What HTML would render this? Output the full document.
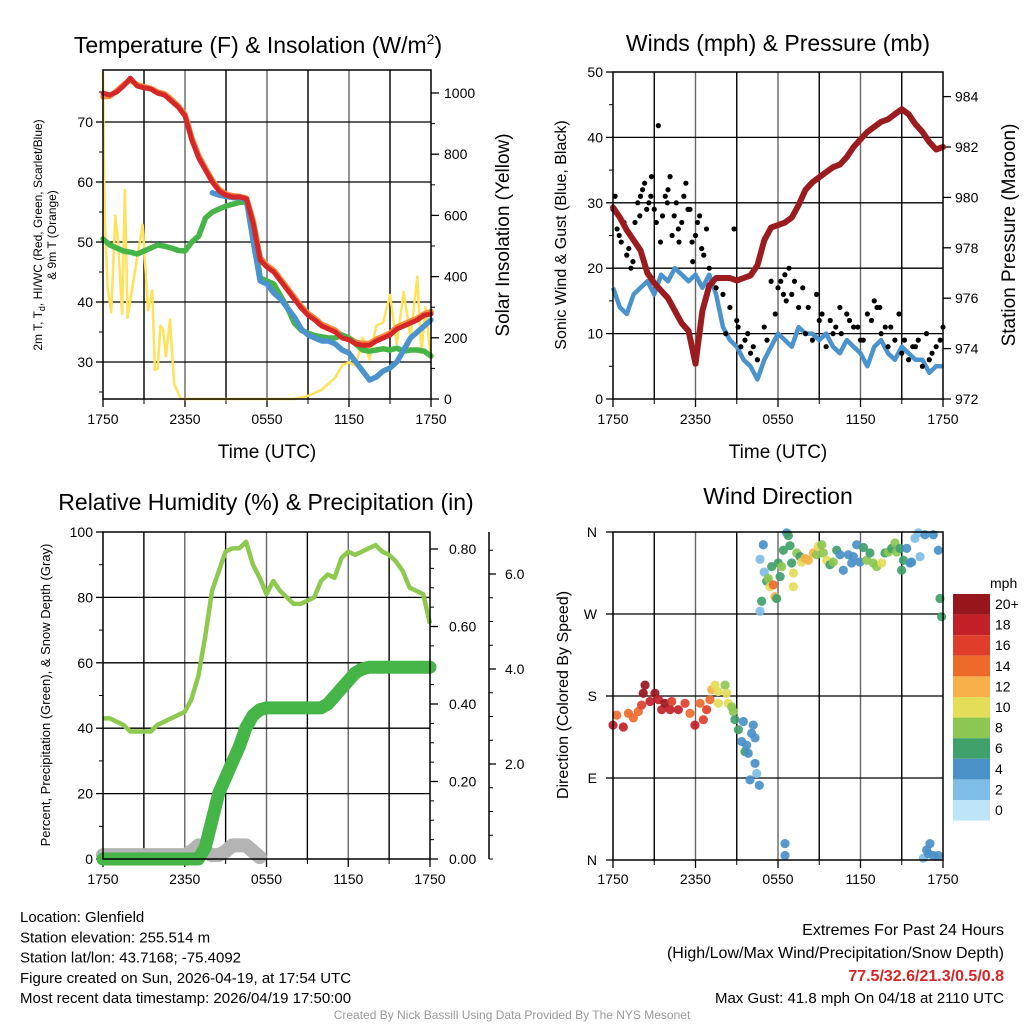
<!DOCTYPE html>
<html><head><meta charset="utf-8">
<style>
html,body{margin:0;padding:0;background:#fff;}
svg{display:block;font-family:"Liberation Sans",sans-serif;}
</style></head>
<body>
<svg id="root" width="1024" height="1024" viewBox="0 0 1024 1024" xmlns="http://www.w3.org/2000/svg"></svg>
<script>
// ---- time axis categories ----
const xTickLabels = ["1750","2350","0550","1150","1750"];
// ---- temperature panel data (half-hour steps, 0..24h) ----
const tempRed = [74.8,74.5,75,76,77.3,76,75.7,75.5,74.8,74.5,73.5,72.5,71,67,64,62,60,58.5,57.8,57.5,57.5,57.2,53,47,45.8,45,43.5,42,40.5,39,37.8,37,36,35.5,35,34,33.7,33,32.8,32.8,33.5,34,34.5,35.5,36,36.5,37,37.8,38];
const tempOrange = [74.2,74.3,75.2,76.2,77,76.2,75.9,75.6,75,74.7,73.8,72.7,71.3,67.4,64.4,62.3,60.3,58.8,58,57.7,57.6,57.3,53.5,47.4,46.1,45.3,43.8,42.3,40.8,39.3,38.1,37.3,36.3,35.8,35.3,34.3,34,33.3,33.1,33.1,33.8,34.3,34.8,35.8,36.3,36.8,37.3,38,38.4];
const dewGreen = [50.5,49.5,49,48.5,48.3,48,48.5,49,49.5,49.3,49,48.6,48.5,50,51,54,55,55.5,56,56.3,56.6,56.7,52,44,43.5,43,41,39,36.5,35.3,34.8,34.4,34.2,34,34,34.5,34,33,32,31.8,32,32.2,32,32.3,31.8,32,32,31.8,31];
const chillBlue = [null,null,null,null,null,null,null,null,null,null,null,null,null,null,null,null,58.2,57.8,57.6,57.4,57.4,57,50,43.5,43,41.5,40.5,39,37.5,35.5,34.5,34,33.5,33.5,33,32,31.5,30,28.5,27,27.5,28.5,29,30,32,34,35,36,37];
const solarHour = [0,0.05,0.15,0.35,0.6,0.9,1.1,1.4,1.6,1.8,2.2,2.9,3.3,3.6,3.8,4.0,4.2,4.4,4.6,4.9,5.2,5.7,14,15,16,17,17.5,18,18.5,19,19.5,20,20.5,21,21.5,22,22.5,23,23.3,23.6,24];
const solarVal = [1070,840,570,356,284,600,520,278,683,265,380,570,290,355,95,100,240,225,140,260,50,0,0,10,30,70,110,120,110,200,130,240,250,340,180,350,200,400,150,300,130];
const tempTicks = [30,40,50,60,70];
const solarTicks = [0,200,400,600,800,1000];
// ---- wind panel data ----
const windSpeed = [17,14,13,16,17,18,16,19,18,20,19,18,19,17,19,16,11,9,8,6,5,3,6,8,10,9,8,11,10,10,9,10,8,7,9,8,7,5,8,9,7,6,8,7,6,6,4,5,5];
const pressure = [979.6,979.2,978.7,978.3,977.9,977.0,976.6,976.3,976.0,975.5,975.0,974.7,973.4,975.5,976.5,976.8,976.8,976.8,976.7,976.8,976.9,977.3,978.3,978.8,978.9,979.0,979.2,979.7,980.3,980.6,980.8,981.0,981.2,981.3,981.6,982.0,982.3,982.6,982.8,983.0,983.1,983.3,983.5,983.3,982.9,982.6,982.2,981.9,982.0];
const gustHour = [0,0.3,0.6,1,1.3,1.6,2,2.3,2.6,3,3.3,3.6,4,4.3,4.6,5,5.3,5.6,6,6.3,6.6,7,7.5,8,8.5,9,9.3,9.6,10,10.5,11,11.5,12,12.5,13,13.5,14,14.5,15,15.5,16,16.5,17,17.5,18,18.5,19,19.5,20,20.5,21,21.5,22,22.5,23,23.5,24,0.8,1.8,2.8,3.8,4.8,5.8,6.8,8.2,12.2,12.8,15.2,16.2,17.2,19.2,20.2,22.2,0.15,0.45,1.15,1.45,1.95,2.15,2.45,2.75,3.15,3.45,3.95,4.15,4.45,4.75,5.15,5.45,5.75,6.15,6.45,8.8,9.1,9.8,10.2,11.2,11.8,12.4,12.6,13.2,13.8,14.2,14.8,15.8,16.6,17.8,18.2,18.8,19.4,19.8,20.8,21.2,21.8,22.8,23.2,23.8];
const gustVal = [29,26,24,22,20,27,31,33,30,29,41.8,28,32,25,30,27,33,29,25,28,22,20,17,16,14,12,8,9,7,6,11,18,17,19,16,14,10,9,12,8,10,14,13,11,9,13,15,10,8,9,7,6,8,5,6,8,11,27,30,34,31,24,21,26,10,18,20,13,11,12,14,11,9,31,25,23,21,28,32,29,31,27,24,30,34,28,26,31,29,24,27,23,26,11,10,8,9,13,16,15,18,17,14,16,12,10,11,9,12,14,11,13,9,8,10,7,9,7,10];
const windTicks = [0,10,20,30,40,50];
const pressTicks = [972,974,976,978,980,982,984];
// ---- humidity / precipitation data ----
const relHum = [43,43,42,41,39,39,39,39,41,42,43,44,45,49,56,68,82,88,94,95,95,97,90,86,81,85,82,80,78,78,79,80,85,87,86,92,94,93,94,95,96,94,93,91,88,83,82,81,72];
const precip = [0,0,0,0,0,0,0,0,0,0,0,0,0,0,0,0.03,0.1,0.17,0.21,0.25,0.29,0.34,0.37,0.385,0.39,0.39,0.39,0.39,0.39,0.39,0.39,0.39,0.39,0.4,0.42,0.44,0.46,0.48,0.49,0.495,0.495,0.495,0.495,0.495,0.495,0.495,0.495,0.495,0.495];
const snowDepth = [0.01,0.01,0.01,0.01,0.01,0.01,0.01,0.01,0.01,0.01,0.01,0.01,0.01,0.02,0.035,0.02,0.01,0.01,0.02,0.035,0.035,0.035,0.02,0.005,null,null,null,null,null,null,null,null,null,null,null,null,null,null,null,null,null,null,null,null,null,null,null,null,null];
const rhTicks = [0,20,40,60,80,100];
const precipTicks = [0,0.2,0.4,0.6,0.8];
const snowTicks = [2.0,4.0,6.0];
// ---- wind direction data ----
const dirHour = [0.0,0.27,0.75,1.12,1.48,1.84,2.08,2.2,2.33,2.69,3.05,3.3,3.54,3.78,4.15,4.27,4.75,5.24,5.6,5.96,6.33,6.57,6.81,7.05,7.18,7.42,7.66,7.66,8.15,8.27,8.39,8.63,8.75,8.87,9.12,9.48,9.36,9.6,9.72,9.84,10.08,10.2,10.33,10.33,10.45,9.96,10.64,10.69,10.81,10.69,10.93,11.0,11.18,11.3,11.42,11.54,11.66,11.78,11.9,12.02,12.15,12.27,12.39,12.63,12.75,12.87,12.99,13.12,13.12,13.36,13.6,13.72,13.96,14.21,14.57,14.81,14.93,15.18,15.3,15.54,15.78,16.02,16.27,16.51,16.75,17.12,17.36,17.48,17.72,17.96,18.21,18.45,18.69,18.93,19.18,19.54,19.78,20.02,20.27,20.51,20.63,20.87,20.99,21.12,21.36,21.6,21.72,21.96,22.21,22.33,22.69,23.3,23.66,23.78,23.9,12.51,12.51,23.05,22.81,22.57,23.3,23.66,22.93];
const dirDeg = [148,159,146,161,156,163,170,183,192,174,183,176,165,172,165,174,165,172,161,148,172,154,165,176,187,192,185,172,192,183,172,168,163,154,143,152,130,119,126,117,139,148,134,106,95,88,82,273,284,330,346,316,306,309,300,322,302,289,287,326,311,322,340,359,356,345,326,315,300,337,333,327,331,329,337,335,344,346,337,329,324,327,340,335,318,335,326,333,346,327,343,329,337,326,322,326,337,338,342,348,338,342,318,329,342,326,327,353,359,333,357,357,340,287,267,18,5,18,11,2,5,5,7];
const dirSpeed = [18,14,18,14,14,14,16,20,20,18,20,18,18,20,18,16,18,16,14,18,14,16,16,14,12,10,10,10,8,9,10,8,8,6,6,4,3,6,4,4,4,4,3,3,2,4,3,2,6,2,4,2,6,8,10,6,14,12,6,6,6,8,6,4,6,6,6,10,10,8,6,10,12,12,12,8,10,8,8,10,6,8,6,4,4,4,4,4,4,4,6,8,6,8,8,10,6,8,6,8,8,6,6,6,4,4,4,2,2,2,4,4,4,6,6,4,4,4,4,2,4,4,4];
const dirTickLabels = ["N","W","S","E","N"];
const speedLabels = ["20+","18","16","14","12","10","8","6","4","2","0"];
const speedColors = ["#bde5f7","#7dbde6","#4a90c9","#40a06a","#8cc751","#e3dd58","#f7b04a","#ee6a2b","#e03e2b","#c22026","#97161c"];

const svg = document.getElementById('root');
const NS = 'http://www.w3.org/2000/svg';
function mk(tag, attrs, parent){
  const e = document.createElementNS(NS, tag);
  for (const k in attrs) e.setAttribute(k, attrs[k]);
  (parent||svg).appendChild(e);
  return e;
}
function txt(str, x, y, size, anchor, parent, extra){
  const t = mk('text', Object.assign({x:x, y:y, 'font-size':size, 'text-anchor':anchor||'middle', fill:'#000'}, extra||{}), parent);
  t.textContent = str;
  return t;
}
function linePath(vals, fx, fy){
  let d = '', pen = false;
  vals.forEach((v,i)=>{
    if (v===null){ pen=false; return; }
    d += (pen?'L':'M') + fx(i).toFixed(1) + ' ' + fy(v).toFixed(1) + ' ';
    pen = true;
  });
  return d;
}
function frame(x0,x1,y0,y1,g){
  mk('rect',{x:x0,y:y0,width:x1-x0,height:y1-y0,fill:'none',stroke:'#000','stroke-width':1.5},g);
}
function vgrid(x0,x1,y0,y1,g){
  for (let k=1;k<8;k++){
    const x = x0 + k*(x1-x0)/8;
    mk('line',{x1:x,y1:y0,x2:x,y2:y1,stroke:k%2?'#000':'#666','stroke-width':1.4},g);
  }
}
function xTicks(x0,x1,y1,ty,g){
  xTickLabels.forEach((lab,i)=>{
    const x = x0 + i*(x1-x0)/4;
    mk('line',{x1:x,y1:y1,x2:x,y2:y1+8,stroke:'#000','stroke-width':1.3},g);
    const t = txt(lab, x, ty, 14, 'middle', g);
    
    
  });
  for (let k=1;k<8;k+=2){
    const x = x0 + k*(x1-x0)/8;
    mk('line',{x1:x,y1:y1,x2:x,y2:y1+5,stroke:'#000','stroke-width':1},g);
  }
}

// ================= PANEL 1: Temperature =================
(function(){
  const g = mk('g',{});
  
  
  const x0=103,x1=431,y0=70,y1=399;
  const X = h => x0 + h*(x1-x0)/24;
  const XI = i => X(i*0.5);
  const Y = v => 362 - (v-30)*6;
  const YS = v => 399 - v*0.306;
  vgrid(x0,x1,y0,y1,g);
  tempTicks.forEach(v=>{
    mk('line',{x1:x0,y1:Y(v),x2:x1,y2:Y(v),stroke:'#000','stroke-width':1.3},g);
    mk('line',{x1:x0-7,y1:Y(v),x2:x0,y2:Y(v),stroke:'#000','stroke-width':1.3},g);
    const t = txt(String(v), x0-10, Y(v)+5, 14, 'end', g);
    
    
  });
  [25,35,45,55,65,75].forEach(v=>mk('line',{x1:x0-4,y1:Y(v),x2:x0,y2:Y(v),stroke:'#000'},g));
  solarTicks.forEach(v=>{
    mk('line',{x1:x1,y1:YS(v),x2:x1+8,y2:YS(v),stroke:'#000','stroke-width':1.3},g);
    const t = txt(String(v), x1+13, YS(v)+5, 14, 'start', g);
    
    
  });
  for (let v=100; v<1100; v+=200) mk('line',{x1:x1,y1:YS(v),x2:x1+4,y2:YS(v),stroke:'#000'},g);
  xTicks(x0,x1,y1,424,g);
  const sp = mk('path',{d:solarHour.map((h,i)=>(i?'L':'M')+X(h).toFixed(1)+' '+YS(solarVal[i]).toFixed(1)).join(' '),fill:'none',stroke:'#fde25a','stroke-width':2.5,'stroke-linejoin':'round'},g);
  
  
  const og = mk('path',{d:linePath(tempOrange,XI,Y),fill:'none',stroke:'#f7893a','stroke-width':5.5,'stroke-linejoin':'round','stroke-linecap':'round'},g);
  
  
  const gr = mk('path',{d:linePath(dewGreen,XI,Y),fill:'none',stroke:'#46b548','stroke-width':5.5,'stroke-linejoin':'round','stroke-linecap':'round'},g);
  
  
  const bl = mk('path',{d:linePath(chillBlue,XI,Y),fill:'none',stroke:'#4b93cd','stroke-width':5.5,'stroke-linejoin':'round','stroke-linecap':'round'},g);
  
  
  const rd = mk('path',{d:linePath(tempRed,XI,Y),fill:'none',stroke:'#d62728','stroke-width':5,'stroke-linejoin':'round','stroke-linecap':'round'},g);
  
  
  frame(x0,x1,y0,y1,g);
  const ti = txt('Temperature (F) & Insolation (W/m', 258, 53, 23, 'middle', g);
  const sup = mk('tspan',{'font-size':14,dy:-9},ti); sup.textContent='2';
  const cl = mk('tspan',{dy:9},ti); cl.textContent=')';
  
  
  const xt = txt('Time (UTC)', 267, 458, 19, 'middle', g);
  
  
  const yl = txt('', 0, 0, 12, 'middle', g, {transform:'translate(42,235) rotate(-90)'});
  yl.innerHTML = '2m T, T<tspan font-size="9" dy="3">d</tspan><tspan dy="-3">, HI/WC (Red, Green, Scarlet/Blue)</tspan>';
  
  
  const yl2 = txt('& 9m T (Orange)', 0, 0, 12, 'middle', g, {transform:'translate(56,235) rotate(-90)'});
  
  
  const yr = txt('Solar Insolation (Yellow)', 0, 0, 19, 'middle', g, {transform:'translate(509,235) rotate(-90)'});
  
  
})();

// ================= PANEL 2: Winds =================
(function(){
  const g = mk('g',{});
  
  
  const x0=613,x1=943,y0=72,y1=399;
  const X = h => x0 + h*(x1-x0)/24;
  const XI = i => X(i*0.5);
  const Y = v => 399 - v*6.54;
  const YP = p => 399 - (p-972)*25.2;
  vgrid(x0,x1,y0,y1,g);
  windTicks.forEach(v=>{
    if (v>0 && v<50) mk('line',{x1:x0,y1:Y(v),x2:x1,y2:Y(v),stroke:'#000','stroke-width':1.3},g);
    mk('line',{x1:x0-7,y1:Y(v),x2:x0,y2:Y(v),stroke:'#000','stroke-width':1.3},g);
    const t = txt(String(v), x0-10, Y(v)+5, 14, 'end', g);
    
    
  });
  [5,15,25,35,45].forEach(v=>mk('line',{x1:x0-4,y1:Y(v),x2:x0,y2:Y(v),stroke:'#000'},g));
  pressTicks.forEach(v=>{
    mk('line',{x1:x1,y1:YP(v),x2:x1+8,y2:YP(v),stroke:'#000','stroke-width':1.3},g);
    const t = txt(String(v), x1+12, YP(v)+5, 14, 'start', g);
    
    
  });
  xTicks(x0,x1,y1,424,g);
  const ws = mk('path',{d:linePath(windSpeed,XI,Y),fill:'none',stroke:'#4b93cd','stroke-width':4.5,'stroke-linejoin':'round'},g);
  
  
  gustHour.forEach((h,i)=>{
    const c = mk('circle',{cx:X(h),cy:Y(gustVal[i]),r:2.6,fill:'#000'},g);
    
    
  });
  const pr = mk('path',{d:linePath(pressure,XI,YP),fill:'none',stroke:'#9b1c1f','stroke-width':6,'stroke-linejoin':'round','stroke-linecap':'round'},g);
  
  
  frame(x0,x1,y0,y1,g);
  const ti = txt('Winds (mph) & Pressure (mb)', 778, 51, 23, 'middle', g);
  
  
  const xt = txt('Time (UTC)', 778, 458, 19, 'middle', g);
  
  
  const yl = txt('Sonic Wind & Gust (Blue, Black)', 0, 0, 16, 'middle', g, {transform:'translate(566,235) rotate(-90)'});
  
  
  const yr = txt('Station Pressure (Maroon)', 0, 0, 19, 'middle', g, {transform:'translate(1015,235) rotate(-90)'});
  
  
})();

// ================= PANEL 3: Humidity =================
(function(){
  const g = mk('g',{});
  
  
  const x0=103,x1=430,y0=532,y1=859;
  const X = h => x0 + h*(x1-x0)/24;
  const XI = i => X(i*0.5);
  const Y = v => 859 - v*3.27;
  const YPr = v => 859 - v*387.5;
  const YSn = v => 859 - v*47.5;
  vgrid(x0,x1,y0,y1,g);
  rhTicks.forEach(v=>{
    if (v>0 && v<100) mk('line',{x1:x0,y1:Y(v),x2:x1,y2:Y(v),stroke:'#000','stroke-width':1.3},g);
    mk('line',{x1:x0-7,y1:Y(v),x2:x0,y2:Y(v),stroke:'#000','stroke-width':1.3},g);
    const t = txt(String(v), x0-10, Y(v)+5, 14, 'end', g);
    
    
  });
  [10,30,50,70,90].forEach(v=>mk('line',{x1:x0-4,y1:Y(v),x2:x0,y2:Y(v),stroke:'#000'},g));
  precipTicks.forEach(v=>{
    mk('line',{x1:x1,y1:YPr(v),x2:x1+8,y2:YPr(v),stroke:'#000','stroke-width':1.3},g);
    const t = txt(v.toFixed(2), x1+19, YPr(v)+5, 14, 'start', g);
    
    
  });
  for (let v=0.05; v<0.85; v+=0.05) mk('line',{x1:x1,y1:YPr(v),x2:x1+4,y2:YPr(v),stroke:'#000'},g);
  mk('line',{x1:489,y1:y0,x2:489,y2:y1,stroke:'#000','stroke-width':1.5},g);
  snowTicks.forEach(v=>{
    mk('line',{x1:489,y1:YSn(v),x2:496,y2:YSn(v),stroke:'#000','stroke-width':1.3},g);
    const t = txt(v.toFixed(1), 505, YSn(v)+5, 14, 'start', g);
    
    
  });
  for (let v=0; v<7; v+=0.5) mk('line',{x1:489,y1:YSn(v),x2:493,y2:YSn(v),stroke:'#000'},g);
  xTicks(x0,x1,y1,884,g);
  const sn = mk('path',{d:linePath(snowDepth,XI,YPr),fill:'none',stroke:'#b4b4b4','stroke-width':14,'stroke-linejoin':'round','stroke-linecap':'round'},g);
  
  
  const rh = mk('path',{d:linePath(relHum,XI,Y),fill:'none',stroke:'#8dc94f','stroke-width':4.5,'stroke-linejoin':'round'},g);
  
  
  const pc = mk('path',{d:linePath(precip,XI,YPr),fill:'none',stroke:'#46b548','stroke-width':13,'stroke-linejoin':'round','stroke-linecap':'round'},g);
  
  
  frame(x0,x1,y0,y1,g);
  const ti = txt('Relative Humidity (%) & Precipitation (in)', 266, 510, 23, 'middle', g);
  
  
  const yl = txt('Percent, Precipitation (Green), & Snow Depth (Gray)', 0, 0, 13, 'middle', g, {transform:'translate(50,695) rotate(-90)'});
  
  
})();

// ================= PANEL 4: Wind Direction =================
(function(){
  const g = mk('g',{});
  
  
  const x0=613,x1=943,y0=532,y1=860;
  const X = h => x0 + h*(x1-x0)/24;
  const Y = d => 860 - d*328/360;
  vgrid(x0,x1,y0,y1,g);
  dirTickLabels.forEach((lab,i)=>{
    const y = y0 + i*(y1-y0)/4;
    if (i>0 && i<4) mk('line',{x1:x0,y1:y,x2:x1,y2:y,stroke:'#000','stroke-width':1.3},g);
    mk('line',{x1:x0-7,y1:y,x2:x0,y2:y,stroke:'#000','stroke-width':1.3},g);
    const t = txt(lab, x0-16, y+5, 14, 'end', g);
    
    
  });
  xTicks(x0,x1,y1,884,g);
  dirHour.forEach((h,i)=>{
    const b = Math.min(10, Math.round(dirSpeed[i]/2));
    const c = mk('circle',{cx:X(h),cy:Y(dirDeg[i]),r:4.6,fill:speedColors[b],'fill-opacity':0.92},g);
    
    
  });
  frame(x0,x1,y0,y1,g);
  const ti = txt('Wind Direction', 778, 504, 23, 'middle', g);
  
  
  const yl = txt('Direction (Colored By Speed)', 0, 0, 16, 'middle', g, {transform:'translate(568,695) rotate(-90)'});
  
  
  const lg = mk('g',{},g);
  
  
  const mt = txt('mph', 990, 588, 14, 'start', lg);
  
  
  speedLabels.forEach((lab,i)=>{
    const y = 594 + i*20.6;
    const r = mk('rect',{x:953,y:y,width:37,height:20.6,fill:speedColors[10-i]},lg);
    
    
    const t = txt(lab, 995, y+15, 14, 'start', lg);
    
    
  });
})();

// ================= Footer =================
(function(){
  const g = mk('g',{});
  
  
  const lines = ['Location: Glenfield','Station elevation: 255.514 m','Station lat/lon: 43.7168; -75.4092','Figure created on Sun, 2026-04-19, at 17:54 UTC','Most recent data timestamp: 2026/04/19 17:50:00'];
  lines.forEach((s,i)=>{
    const t = txt(s, 20, 922+i*20.3, 15, 'start', g);
    
    
  });
  const e = mk('g',{});
  
  
  const t1 = txt('Extremes For Past 24 Hours', 1004, 935, 16, 'end', e);
  
  
  const t2 = txt('(High/Low/Max Wind/Precipitation/Snow Depth)', 1004, 958, 16, 'end', e);
  
  
  const t3 = txt('77.5/32.6/21.3/0.5/0.8', 1004, 981, 16, 'end', e, {fill:'#d62728','font-weight':'bold'});
  
  
  const t4 = txt('Max Gust: 41.8 mph On 04/18 at 2110 UTC', 1004, 1003, 15, 'end', e);
  
  
  const cr = txt('Created By Nick Bassill Using Data Provided By The NYS Mesonet', 512, 1019, 12, 'middle', null, {fill:'#999'});
  
  
})();
</script>
</body></html>
